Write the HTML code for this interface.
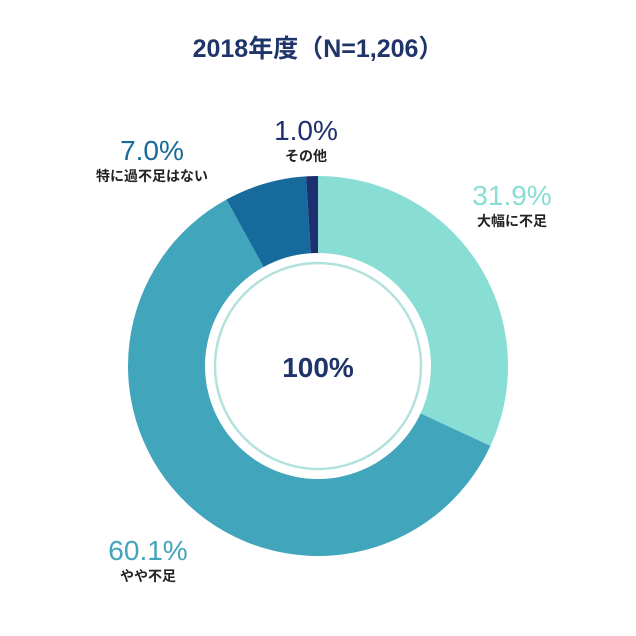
<!DOCTYPE html>
<html><head><meta charset="utf-8"><style>
body{margin:0;background:#fff;}
svg{display:block;font-family:"Liberation Sans","Noto Sans CJK JP",sans-serif;}
</style></head><body>
<svg id="c" width="636" height="636" viewBox="0 0 636 636">
<text x="318" y="57" text-anchor="middle" font-size="25" font-weight="bold" fill="#1f3469">2018年度（N=1,206）</text>
<g id="slices"></g>
<circle cx="318" cy="366" r="113" fill="#fff"/>
<circle cx="318" cy="366" r="103" fill="none" stroke="#b3e2dd" stroke-width="2.5"/>
<text x="318" y="377" text-anchor="middle" font-size="28" font-weight="bold" fill="#1f3469">100%</text>
<g id="labels"></g>
</svg>
<script>
const categories=["大幅に不足","やや不足","特に過不足はない","その他"];
const values=[31.9,60.1,7.0,1.0];
const valueLabels=["31.9%","60.1%","7.0%","1.0%"];
const colors=["#88ddd4","#41a5bb","#176a9c","#1d2f6e"];
const labelPos=[[512,205,"middle"],[148,560,"middle"],[152,160,"middle"],[306,140,"middle"]];
const cx=318,cy=366,R=190;
const ns="http://www.w3.org/2000/svg";
const total=values.reduce((a,b)=>a+b,0);
let a0=0;
const g=document.getElementById('slices'),lg=document.getElementById('labels');
values.forEach((v,i)=>{
  const a1=a0+v/total*2*Math.PI;
  const x0=cx+R*Math.sin(a0),y0=cy-R*Math.cos(a0),x1=cx+R*Math.sin(a1),y1=cy-R*Math.cos(a1);
  const p=document.createElementNS(ns,'path');
  p.setAttribute('d',`M${cx},${cy}L${x0},${y0}A${R},${R} 0 ${a1-a0>Math.PI?1:0} 1 ${x1},${y1}Z`);
  p.setAttribute('fill',colors[i]);
  
  
  g.appendChild(p);
  a0=a1;
  const [lx,ly,an]=labelPos[i];
  const t=document.createElementNS(ns,'text');
  t.setAttribute('x',lx);t.setAttribute('y',ly);t.setAttribute('text-anchor',an);
  t.setAttribute('font-size','28');t.setAttribute('fill',colors[i]);
  t.textContent=valueLabels[i];
  
  
  lg.appendChild(t);
  const s=document.createElementNS(ns,'text');
  s.setAttribute('x',lx);s.setAttribute('y',ly+21);s.setAttribute('text-anchor',an);
  s.setAttribute('font-size','14');s.setAttribute('font-weight','bold');s.setAttribute('fill','#222');
  s.textContent=categories[i];
  
  
  lg.appendChild(s);
});
</script>
</body></html>
